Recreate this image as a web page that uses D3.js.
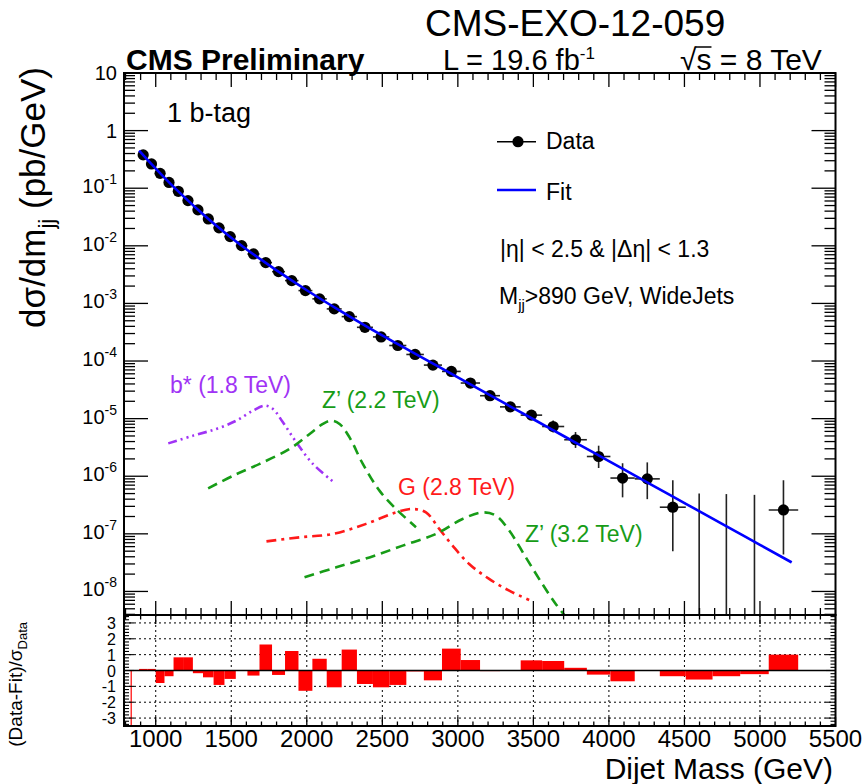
<!DOCTYPE html>
<html>
<head>
<meta charset="utf-8">
<script src="https://cdn.jsdelivr.net/npm/d3@7"></script>
<style>
  body { margin: 0; background: #fff; }
  svg { display: block; }
  text { font-family: "Liberation Sans", Arial, Helvetica, sans-serif; fill: #000; }
</style>
</head>
<body>
<svg id="chart" width="867" height="784"></svg>
<script>
// ---- Dijet mass bins (GeV) ----
const binEdges = [890, 944, 1000, 1058, 1118, 1181, 1246, 1313, 1383, 1455, 1530, 1607, 1687, 1770,
  1856, 1945, 2037, 2132, 2231, 2332, 2438, 2546, 2659, 2775, 2895, 3019, 3147, 3279, 3416, 3558,
  3704, 3854, 4010, 4171, 4337, 4509, 4686, 4869, 5058, 5253];
const firstResidualEdge = 838;

// ---- Measured cross section dσ/dm (pb/GeV) with asymmetric errors ----
const dataValues = [0.379, 0.264, 0.181, 0.126, 0.0883, 0.0609, 0.0420, 0.0293, 0.0205, 0.01445,
  0.01007, 0.00723, 0.00511, 0.00356, 0.00249, 0.00167, 0.00120, 8.03e-4, 5.90e-4, 3.85e-4,
  2.62e-4, 1.86e-4, 1.30e-4, 8.5e-5, 6.6e-5, 4.15e-5, 2.5e-5, 1.6e-5, 1.15e-5, 7.3e-6,
  4.3e-6, 2.2e-6, 9.3e-7, 9.0e-7, 2.9e-7, 0, 0, 0, 2.6e-7];
const dataErrLow = [6e-4, 5e-4, 4e-4, 3.3e-4, 2.7e-4, 2.2e-4, 1.8e-4, 1.46e-4, 1.21e-4, 9.9e-5,
  8.2e-5, 6.8e-5, 5.6e-5, 4.6e-5, 3.8e-5, 3.0e-5, 2.5e-5, 2.03e-5, 1.73e-5, 1.36e-5,
  1.11e-5, 9.2e-6, 7.6e-6, 6.0e-6, 5.2e-6, 4.1e-6, 3.1e-6, 2.4e-6, 2.0e-6, 1.57e-6,
  1.2e-6, 8.1e-7, 5.0e-7, 5.0e-7, 2.4e-7, 0, 0, 0, 2.16e-7];
const dataErrHigh = [6e-4, 5e-4, 4e-4, 3.3e-4, 2.7e-4, 2.2e-4, 1.8e-4, 1.46e-4, 1.21e-4, 9.9e-5,
  8.2e-5, 6.8e-5, 5.6e-5, 4.6e-5, 3.8e-5, 3.0e-5, 2.5e-5, 2.1e-5, 1.8e-5, 1.42e-5,
  1.17e-5, 9.7e-6, 8.1e-6, 6.5e-6, 5.7e-6, 4.6e-6, 3.5e-6, 2.8e-6, 2.4e-6, 1.97e-6,
  1.55e-6, 1.19e-6, 7.5e-7, 8.4e-7, 5.6e-7, 5.0e-7, 4.9e-7, 4.75e-7, 5.9e-7];

// ---- Background fit ----
const fitMass = [890, 1000, 1100, 1200, 1300, 1400, 1500, 1600, 1700, 1800, 1900, 2000, 2200, 2400,
  2600, 2800, 3000, 3200, 3400, 3600, 3800, 4000, 4200, 4400, 4600, 4800, 5000, 5210];
const fitValues = [0.4496, 0.2189, 0.1178, 0.06598, 0.03786, 0.02243, 0.01377, 0.00873, 0.00569,
  0.003755, 0.002507, 0.001695, 8.02e-4, 3.91e-4, 1.98e-4, 1.016e-4, 5.19e-5, 2.66e-5, 1.366e-5,
  6.98e-6, 3.58e-6, 1.83e-6, 9.38e-7, 4.79e-7, 2.46e-7, 1.26e-7, 6.44e-8, 3.19e-8];

// ---- (Data-Fit)/sigma per bin ----
const pulls = [0.1, 0.1, -0.79, -0.36, 0.83, 0.83, -0.17, -0.43, -0.91, -0.53, 0, -0.32, 1.64, -0.28,
  1.23, -1.28, 0.74, -1.06, 1.32, -0.85, -1.06, -0.91, -0.06, -0.62, 1.38, 0.66, -0.04, 0, 0.64,
  0.6, 0.17, -0.26, -0.68, 0, -0.36, -0.57, -0.36, -0.23, 1.0];

// ---- Signal shapes ----
const bstarMass = [1083, 1248, 1402, 1534, 1644, 1721, 1776, 1842, 1931, 2040, 2172];
const bstarValues = [3.72e-6, 5.07e-6, 6.63e-6, 9.23e-6, 1.38e-5, 1.68e-5, 1.47e-5, 8.63e-6, 3.88e-6, 1.64e-6, 8.15e-7];
const zp22Mass = [1347, 1512, 1688, 1886, 2019, 2106, 2162, 2217, 2283, 2371, 2481, 2591, 2723];
const zp22Values = [6.17e-7, 1.02e-6, 1.64e-6, 2.98e-6, 5.42e-6, 8.09e-6, 9.23e-6, 8.09e-6, 4.73e-6, 1.64e-6, 5.62e-7, 2.70e-7, 1.30e-7];
const gMass = [1733, 1952, 2172, 2393, 2591, 2701, 2789, 2877, 2965, 3075, 3207, 3340, 3472];
const gValues = [7.41e-8, 8.7e-8, 9.95e-8, 1.49e-7, 2.36e-7, 2.70e-7, 2.36e-7, 1.22e-7, 6.24e-8, 3.0e-8, 1.65e-8, 1.03e-8, 7.1e-9];
const zp32Mass = [1985, 2195, 2415, 2635, 2855, 3031, 3163, 3252, 3340, 3450, 3559, 3648, 3725];
const zp32Values = [1.76e-8, 2.62e-8, 3.9e-8, 6.24e-8, 9.95e-8, 1.81e-7, 2.36e-7, 2.07e-7, 1.14e-7, 3.91e-8, 1.35e-8, 6.07e-9, 3.37e-9];

// ---- Axis ticks ----
const xTickValues = [1000, 1500, 2000, 2500, 3000, 3500, 4000, 4500, 5000, 5500];
const yTickExponents = [1, 0, -1, -2, -3, -4, -5, -6, -7, -8];
const pullTickValues = [3, 2, 1, 0, -1, -2, -3];

// ---- Layout ----
const mainBox = { left: 124, right: 835.5, top: 73, bottom: 615 };
const ratioBox = { top: 615, bottom: 726 };
const xDomain = [790, 5500];
const yDomain = [3.9e-9, 10];
const pullDomain = [-3.5, 3.5];

const svg = d3.select("#chart");
const x = d3.scaleLinear().domain(xDomain).range([mainBox.left, mainBox.right]);
const y = d3.scaleLog().domain(yDomain).range([mainBox.bottom, mainBox.top]);
const yr = d3.scaleLinear().domain(pullDomain).range([ratioBox.bottom, ratioBox.top]);

const defs = svg.append("defs");
defs.append("clipPath").attr("id", "clipMain").append("rect")
  .attr("x", mainBox.left).attr("y", mainBox.top).attr("width", mainBox.right - mainBox.left).attr("height", mainBox.bottom - mainBox.top);
defs.append("clipPath").attr("id", "clipRatio").append("rect")
  .attr("x", mainBox.left).attr("y", ratioBox.top).attr("width", mainBox.right - mainBox.left).attr("height", ratioBox.bottom - ratioBox.top);

function seg(g, x1, y1, x2, y2, stroke, w, dash) {
  const l = g.append("line").attr("x1", x1).attr("y1", y1).attr("x2", x2).attr("y2", y2)
    .attr("stroke", stroke || "#000").attr("stroke-width", w || 1);
  if (dash) l.attr("stroke-dasharray", dash);
  return l;
}

// ================= Upper panel =================
const gMain = svg.append("g");
const gMainPlot = gMain.append("g").attr("clip-path", "url(#clipMain)");

// Signal curves
const sigLine = d3.line().x(d => x(d[0])).y(d => y(d[1])).curve(d3.curveCatmullRom.alpha(0.5));
function drawSignal(mass, vals, color, dash) {
  gMainPlot.append("path").attr("d", sigLine(mass.map((m, i) => [m, vals[i]])))
    .attr("fill", "none").attr("stroke", color).attr("stroke-width", 2.6)
    .attr("stroke-dasharray", dash);
}
const colPurple = "#a033f5", colGreen = "#179c17", colRed = "#ff1a1a";
drawSignal(bstarMass, bstarValues, colPurple, "9,4,2,4,2,4,2,4");
drawSignal(zp22Mass, zp22Values, colGreen, "10,6");
drawSignal(gMass, gValues, colRed, "10,5,3,5");
drawSignal(zp32Mass, zp32Values, colGreen, "10,6");

// Data points with error bars
const gData = gMainPlot.append("g");
dataValues.forEach((v, i) => {
  const lo = binEdges[i], hi = binEdges[i + 1], c = (lo + hi) / 2;
  const yHi = y(v + dataErrHigh[i]);
  const yLo = (v - dataErrLow[i]) > 0 ? y(v - dataErrLow[i]) : mainBox.bottom + 2;
  seg(gData, x(c), yHi, x(c), yLo, "#222", 1.6);
  if (v > 0) {
    seg(gData, x(lo), y(v), x(hi), y(v), "#222", 1.6);
    gData.append("circle").attr("cx", x(c)).attr("cy", y(v)).attr("r", 5.6).attr("fill", "#000");
  }
});

// Fit
const fitLine = d3.line().x(d => x(d[0])).y(d => y(d[1])).curve(d3.curveMonotoneX);
gMainPlot.append("path").attr("d", fitLine(fitMass.map((m, i) => [m, fitValues[i]])))
  .attr("fill", "none").attr("stroke", "#0000ff").attr("stroke-width", 2.6);

// Frame and ticks of upper panel
gMain.append("rect").attr("x", mainBox.left).attr("y", mainBox.top).attr("width", mainBox.right - mainBox.left)
  .attr("height", mainBox.bottom - mainBox.top).attr("fill", "none").attr("stroke", "#000").attr("stroke-width", 2);

for (let m = 800; m <= 5500; m += 100) {
  const major = m % 500 === 0;
  const len = major ? 14 : 7;
  seg(gMain, x(m), mainBox.top, x(m), mainBox.top + len, "#000", 1.3);
  seg(gMain, x(m), mainBox.bottom, x(m), mainBox.bottom - len, "#000", 1.3);
}
for (let k = -9; k <= 1; k++) {
  for (let mm = 1; mm <= 9; mm++) {
    const v = mm * Math.pow(10, k);
    if (v < yDomain[0] || v > yDomain[1]) continue;
    const len = mm === 1 ? 24 : 11;
    seg(gMain, mainBox.left, y(v), mainBox.left + len, y(v), "#000", 1.3);
    seg(gMain, mainBox.right, y(v), mainBox.right - len, y(v), "#000", 1.3);
  }
}
yTickExponents.forEach(e => {
  const ty = y(Math.pow(10, e));
  const t = gMain.append("text").attr("x", 117).attr("text-anchor", "end").attr("font-size", 20);
  if (e === 1) t.attr("y", ty + 7).text("10");
  else if (e === 0) t.attr("y", ty + 7).text("1");
  else {
    t.attr("y", ty + 5);
    t.append("tspan").text("10");
    t.append("tspan").attr("font-size", 14).attr("dy", -9).text(String(e));
  }
});

// Y axis title
const yTitle = svg.append("text").attr("transform", "translate(45,67) rotate(-90)")
  .attr("text-anchor", "end").attr("font-size", 35);
yTitle.append("tspan").text("dσ/dm");
yTitle.append("tspan").attr("font-size", 22).attr("dy", 9).text("jj");
yTitle.append("tspan").attr("dy", -9).text(" (pb/GeV)");

// Header
svg.append("text").attr("x", 425).attr("y", 36).attr("font-size", 37).text("CMS-EXO-12-059");
svg.append("text").attr("x", 126).attr("y", 70).attr("font-size", 30).attr("font-weight", "bold").text("CMS Preliminary");
const lumi = svg.append("text").attr("x", 443).attr("y", 70).attr("font-size", 29);
lumi.append("tspan").text("L = 19.6 fb");
lumi.append("tspan").attr("font-size", 17).attr("dy", -11).text("-1");
const rs = svg.append("text").attr("x", 680).attr("y", 70).attr("font-size", 30);
rs.append("tspan").text("√s = 8 TeV");
{
  const n = rs.node();
  const p = n.getStartPositionOfChar(1);
  const w = n.getSubStringLength(1, 1);
  seg(svg, p.x - 1, 70 - 23, p.x + w, 70 - 23, "#000", 1.5);
}

// Annotations
svg.append("text").attr("x", 167).attr("y", 122).attr("font-size", 27).text("1 b-tag");
seg(svg, 497, 141.7, 536, 141.7, "#000", 1.6);
svg.append("circle").attr("cx", 518).attr("cy", 141.7).attr("r", 5.6).attr("fill", "#000");
svg.append("text").attr("x", 546).attr("y", 149).attr("font-size", 23).text("Data");
seg(svg, 497, 190, 536, 190, "#0000ff", 2.6);
svg.append("text").attr("x", 546).attr("y", 200).attr("font-size", 23).text("Fit");
svg.append("text").attr("x", 500).attr("y", 257).attr("font-size", 23).text("|η| < 2.5 & |Δη| < 1.3");
const mjj = svg.append("text").attr("x", 499).attr("y", 304).attr("font-size", 23);
mjj.append("tspan").text("M");
mjj.append("tspan").attr("font-size", 15).attr("dy", 6).text("jj");
mjj.append("tspan").attr("dy", -6).text(">890 GeV, WideJets");

svg.append("text").attr("x", 170).attr("y", 393).attr("font-size", 23).style("fill", colPurple).text("b* (1.8 TeV)");
svg.append("text").attr("x", 322).attr("y", 408).attr("font-size", 23).style("fill", colGreen).text("Z’ (2.2 TeV)");
svg.append("text").attr("x", 398).attr("y", 495).attr("font-size", 23).style("fill", colRed).text("G (2.8 TeV)");
svg.append("text").attr("x", 525).attr("y", 542).attr("font-size", 23).style("fill", colGreen).text("Z’ (3.2 TeV)");

// ================= Lower panel =================
const gRatio = svg.append("g");
const gRatioPlot = gRatio.append("g").attr("clip-path", "url(#clipRatio)");

pullTickValues.filter(v => v !== 0).forEach(v => seg(gRatioPlot, mainBox.left, yr(v), mainBox.right, yr(v), "#000", 1, "2,3"));
xTickValues.filter(m => m < xDomain[1]).forEach(m => seg(gRatioPlot, x(m), ratioBox.top, x(m), ratioBox.bottom, "#000", 1, "2,3"));

pulls.forEach((p, i) => {
  if (p === 0) return;
  gRatioPlot.append("rect")
    .attr("x", x(binEdges[i])).attr("width", x(binEdges[i + 1]) - x(binEdges[i]))
    .attr("y", yr(Math.max(0, p))).attr("height", Math.abs(yr(p) - yr(0)))
    .attr("fill", "#ff0000");
});
seg(gRatioPlot, x(firstResidualEdge), yr(0), x(firstResidualEdge), ratioBox.bottom, "#ff3333", 1.5);
seg(gRatioPlot, mainBox.left, yr(0), mainBox.right, yr(0), "#000", 1.6);

gRatio.append("rect").attr("x", mainBox.left).attr("y", ratioBox.top).attr("width", mainBox.right - mainBox.left)
  .attr("height", ratioBox.bottom - ratioBox.top).attr("fill", "none").attr("stroke", "#000").attr("stroke-width", 2);

for (let m = 800; m <= 5500; m += 100) {
  const major = m % 500 === 0;
  const len = major ? 9 : 4.5;
  seg(gRatio, x(m), ratioBox.bottom, x(m), ratioBox.bottom - len, "#000", 1.3);
  seg(gRatio, x(m), ratioBox.top, x(m), ratioBox.top + len, "#000", 1.3);
}
for (let v = -3.4; v <= 3.41; v += 0.2) {
  const vv = Math.round(v * 10) / 10;
  const major = Math.abs(vv - Math.round(vv)) < 1e-6;
  const len = major ? 10 : 5;
  seg(gRatio, mainBox.left, yr(vv), mainBox.left + len, yr(vv), "#000", 1.1);
  seg(gRatio, mainBox.right, yr(vv), mainBox.right - len, yr(vv), "#000", 1.1);
}
pullTickValues.forEach(v => {
  gRatio.append("text").attr("x", 116).attr("y", yr(v) + 6).attr("text-anchor", "end")
    .attr("font-size", 16).text(String(v));
});
xTickValues.forEach(m => {
  gRatio.append("text").attr("x", x(m)).attr("y", 747).attr("text-anchor", "middle")
    .attr("font-size", 24).text(String(m));
});

// Axis titles
svg.append("text").attr("x", 833).attr("y", 779).attr("text-anchor", "end").attr("font-size", 30).text("Dijet Mass (GeV)");
const pTitle = svg.append("text").attr("transform", "translate(22,622) rotate(-90)")
  .attr("text-anchor", "end").attr("font-size", 19);
pTitle.append("tspan").text("(Data-Fit)/σ");
pTitle.append("tspan").attr("font-size", 13).attr("dy", 5).text("Data");
</script>
</body>
</html>
